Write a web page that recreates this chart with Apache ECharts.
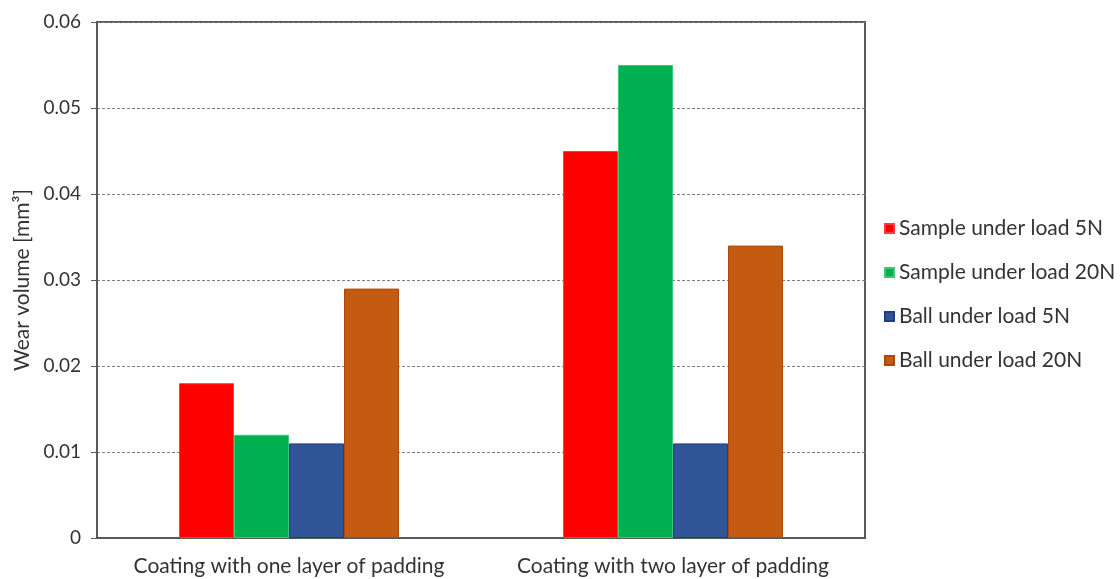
<!DOCTYPE html>
<html>
<head>
<meta charset="utf-8">
<script src="https://cdn.jsdelivr.net/npm/echarts@6/dist/echarts.min.js"></script>
<style>
  html, body { margin: 0; padding: 0; background: #ffffff; }
  #chart { width: 1120px; height: 579px; }
</style>
</head>
<body>
<div id="chart"></div>
<script>
// Wear volume per coating type and load condition
const categories = ['Coating with one layer of padding', 'Coating with two layer of padding'];
const seriesNames = ['Sample under load 5N', 'Sample under load 20N', 'Ball under load 5N', 'Ball under load 20N'];
const sample5N = [0.018, 0.045];
const sample20N = [0.012, 0.055];
const ball5N = [0.011, 0.011];
const ball20N = [0.029, 0.034];
const yTicks = [0, 0.01, 0.02, 0.03, 0.04, 0.05, 0.06];

const fills = ['#FF0000', '#00B050', '#2F5597', '#C55A11'];
const edges = ['#FF3B3B', '#3CC878', '#1F3F80', '#A84A0C'];
const values = [sample5N, sample20N, ball5N, ball20N];

const FONT = 'Lato, "Open Sans", sans-serif';
const TEXT = '#333333';

const chart = echarts.init(document.getElementById('chart'), null, { renderer: 'canvas' });

chart.setOption({
  animation: false,
  backgroundColor: '#ffffff',
  grid: {
    left: 97, right: 255, top: 22, bottom: 41,
    show: true, borderColor: '#595959', borderWidth: 2, backgroundColor: 'transparent'
  },
  legend: {
    orient: 'vertical',
    left: 879, top: 213,
    itemWidth: 9, itemHeight: 9, itemGap: 23,
    icon: 'rect',
    textStyle: { fontFamily: FONT, fontSize: 21, color: TEXT },
    data: seriesNames
  },
  xAxis: {
    type: 'category',
    data: categories,
    axisLine: { lineStyle: { color: '#595959', width: 2 } },
    axisTick: { show: false },
    axisLabel: { fontFamily: FONT, fontSize: 21, color: TEXT, margin: 18, interval: 0 }
  },
  yAxis: {
    type: 'value',
    min: yTicks[0], max: yTicks[yTicks.length - 1], interval: 0.01,
    name: 'Wear volume [mm³]',
    nameLocation: 'middle', nameGap: 64, nameRotate: 90,
    nameTextStyle: { fontFamily: FONT, fontSize: 21, color: TEXT },
    axisLine: { show: true, lineStyle: { color: '#595959', width: 2 } },
    axisTick: { show: true, length: 6, lineStyle: { color: '#595959', width: 1 } },
    axisLabel: {
      fontFamily: FONT, fontSize: 19, color: TEXT, margin: 16,
      formatter: v => (v === 0 ? '0' : v.toFixed(2))
    },
    splitLine: { show: true, lineStyle: { color: '#7f7f7f', type: [3, 2], width: 1 } }
  },
  series: seriesNames.map((name, i) => ({
    name,
    type: 'bar',
    data: values[i],
    barWidth: 55,
    barGap: '0%',
    itemStyle: { color: fills[i], borderColor: edges[i], borderWidth: 1 }
  }))
});
</script>
</body>
</html>
